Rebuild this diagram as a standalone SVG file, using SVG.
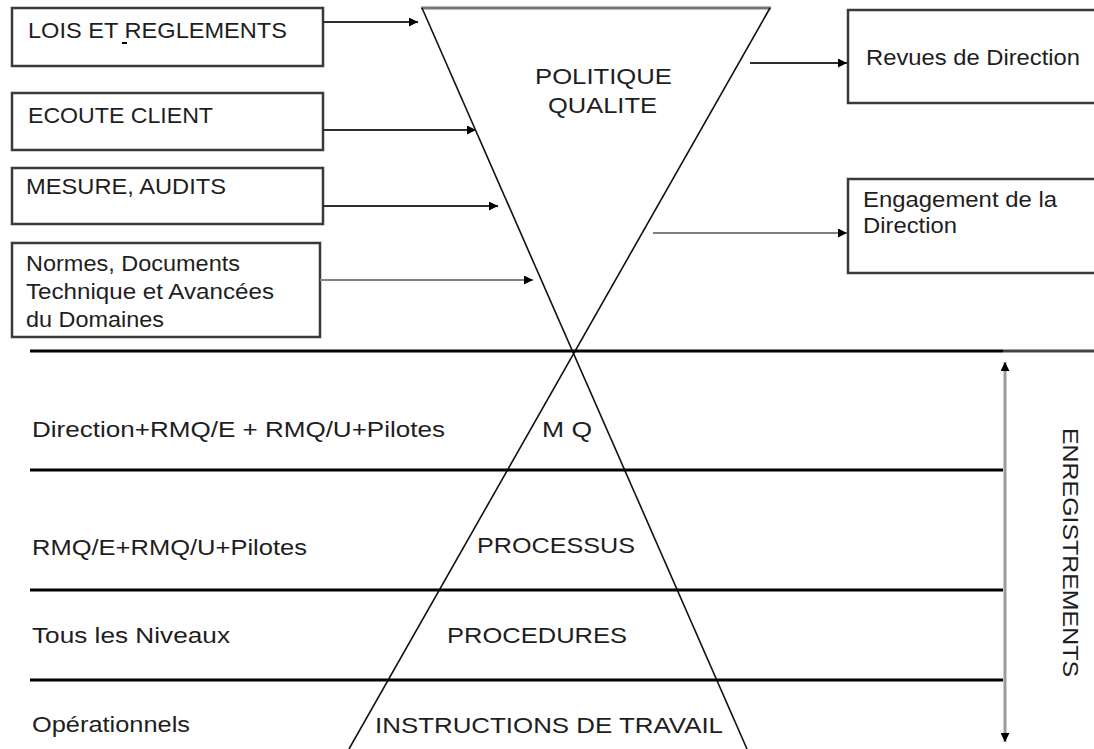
<svg xmlns="http://www.w3.org/2000/svg" width="1094" height="749" viewBox="0 0 1094 749">
  <style>
    .box { fill: #ffffff; stroke: #3a3a3a; stroke-width: 2.5; }
    .t { font-family: "Liberation Sans", Arial, sans-serif; font-size: 22px; fill: #1e1e1e; }
    .link { stroke: #2e2e2e; stroke-width: 2; fill: none; marker-end: url(#head); }
    .link.soft { stroke: #808080; }
    .level { stroke: #000000; stroke-width: 3; }
    .edge { stroke: #111111; stroke-width: 1.6; }
  </style>
  <defs>
    <marker id="head" viewBox="0 0 10 10" refX="10" refY="5" markerWidth="4.5" markerHeight="4.5" orient="auto" markerUnits="strokeWidth">
      <path d="M0,0 L10,5 L0,10 z" fill="#000"/>
    </marker>
    <marker id="tip" viewBox="0 0 10 10" refX="10" refY="5" markerWidth="3" markerHeight="3" orient="auto-start-reverse" markerUnits="strokeWidth">
      <path d="M0,0 L10,5 L0,10 z" fill="#000"/>
    </marker>
  </defs>

  <rect width="1094" height="749" fill="#ffffff"/>

  <!-- inverted triangle (policy) and pyramid, formed by two crossing lines -->
  <g id="politique">
    <line x1="421" y1="8" x2="771" y2="8" stroke="#777" stroke-width="3"/>
    <line class="edge" x1="422" y1="8" x2="747" y2="749"/>
    <line class="edge" x1="770" y1="8" x2="349" y2="749"/>
    <text class="t" x="535" y="84" textLength="137" lengthAdjust="spacingAndGlyphs">POLITIQUE</text>
    <text class="t" x="548" y="113" textLength="109" lengthAdjust="spacingAndGlyphs">QUALITE</text>
  </g>

  <!-- level separators -->
  <g id="levels">
    <line class="level" x1="30" y1="351" x2="1003" y2="351"/>
    <line x1="1003" y1="351" x2="1094" y2="351" stroke="#444" stroke-width="3"/>
    <line class="level" x1="30" y1="470" x2="1003" y2="470"/>
    <line class="level" x1="30" y1="590" x2="1003" y2="590"/>
    <line class="level" x1="30" y1="680" x2="1003" y2="680"/>
  </g>

  <!-- input boxes -->
  <g id="lois">
    <rect class="box" x="12" y="8" width="311" height="58"/>
    <text class="t" x="28" y="38" textLength="259" lengthAdjust="spacingAndGlyphs">LOIS ET REGLEMENTS</text>
    <rect x="122" y="42" width="5" height="2" fill="#000"/>
  </g>
  <g id="ecoute">
    <rect class="box" x="12" y="93" width="311" height="57"/>
    <text class="t" x="28" y="123" textLength="185" lengthAdjust="spacingAndGlyphs">ECOUTE CLIENT</text>
  </g>
  <g id="mesure">
    <rect class="box" x="12" y="168" width="311" height="56"/>
    <text class="t" x="26" y="194" textLength="200" lengthAdjust="spacingAndGlyphs">MESURE, AUDITS</text>
  </g>
  <g id="normes">
    <rect class="box" x="12" y="243" width="308" height="94"/>
    <text class="t" x="26" y="271" textLength="214" lengthAdjust="spacingAndGlyphs">Normes, Documents</text>
    <text class="t" x="26" y="299" textLength="248" lengthAdjust="spacingAndGlyphs">Technique et Avancées</text>
    <text class="t" x="26" y="327" textLength="138" lengthAdjust="spacingAndGlyphs">du Domaines</text>
  </g>

  <!-- output boxes -->
  <g id="revues">
    <rect class="box" x="848" y="10" width="260" height="93"/>
    <text class="t" x="866" y="65" textLength="214" lengthAdjust="spacingAndGlyphs">Revues de Direction</text>
  </g>
  <g id="engagement">
    <rect class="box" x="848" y="179" width="260" height="94"/>
    <text class="t" x="863" y="207" textLength="194" lengthAdjust="spacingAndGlyphs">Engagement de la</text>
    <text class="t" x="863" y="233" textLength="94" lengthAdjust="spacingAndGlyphs">Direction</text>
  </g>

  <!-- pyramid levels -->
  <g id="mq">
    <text class="t" x="32" y="437" textLength="413" lengthAdjust="spacingAndGlyphs">Direction+RMQ/E  + RMQ/U+Pilotes</text>
    <text class="t" x="542" y="437" textLength="50" lengthAdjust="spacingAndGlyphs">M Q</text>
  </g>
  <g id="processus">
    <text class="t" x="32" y="555" textLength="275" lengthAdjust="spacingAndGlyphs">RMQ/E+RMQ/U+Pilotes</text>
    <text class="t" x="477" y="553" textLength="158" lengthAdjust="spacingAndGlyphs">PROCESSUS</text>
  </g>
  <g id="procedures">
    <text class="t" x="32" y="643" textLength="198" lengthAdjust="spacingAndGlyphs">Tous les Niveaux</text>
    <text class="t" x="447" y="643" textLength="180" lengthAdjust="spacingAndGlyphs">PROCEDURES</text>
  </g>
  <g id="instructions">
    <text class="t" x="32" y="732" textLength="158" lengthAdjust="spacingAndGlyphs">Opérationnels</text>
    <text class="t" x="375" y="733" textLength="348" lengthAdjust="spacingAndGlyphs">INSTRUCTIONS DE TRAVAIL</text>
  </g>

  <!-- records axis -->
  <g id="enregistrements">
    <line x1="1005" y1="362" x2="1005" y2="742" stroke="#9a9a9a" stroke-width="3" marker-start="url(#tip)" marker-end="url(#tip)"/>
    <text class="t" transform="translate(1063,428) rotate(90)" x="0" y="0" textLength="249" lengthAdjust="spacingAndGlyphs">ENREGISTREMENTS</text>
  </g>

  <!-- connectors -->
  <g id="connectors">
    <line class="link" x1="323" y1="22" x2="418" y2="22"/>
    <line class="link" x1="323" y1="130" x2="476" y2="130"/>
    <line class="link" x1="323" y1="206" x2="498" y2="206"/>
    <line class="link soft" x1="320" y1="280" x2="533" y2="280"/>
    <line class="link" x1="750" y1="63" x2="847" y2="63"/>
    <line class="link soft" x1="653" y1="233" x2="847" y2="233"/>
  </g>
</svg>
